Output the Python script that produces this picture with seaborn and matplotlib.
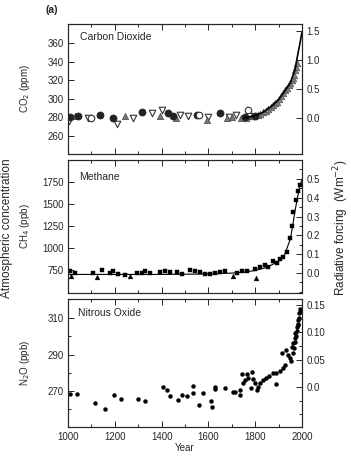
import matplotlib
matplotlib.use("Agg")
import numpy as np
import pandas as pd
import seaborn as sns
import matplotlib.pyplot as plt
from matplotlib.ticker import MultipleLocator, FixedLocator

# ---- data ----
# CO2 (ppm): ice core points by marker type
co2_dtri_year = [1005, 1085, 1209, 1278, 1359, 1400, 1480, 1512, 1600, 1690, 1720, 1775]
co2_dtri_val = [276, 279, 273, 279, 285, 288, 283, 282, 280, 280, 283, 282]
co2_dot_year = [1010, 1043, 1137, 1192, 1316, 1427, 1450, 1550, 1650, 1757, 1800]
co2_dot_val = [280, 281, 283, 279, 286, 285, 281, 283, 285, 280, 282]
co2_tri_year = [1030, 1244, 1393, 1460, 1594, 1680, 1700, 1740]
co2_tri_val = [281, 281, 281, 279, 277, 279, 280, 279]
co2_circ_year = [1100, 1560, 1770]
co2_circ_val = [279, 283, 288]
co2_grey_year = [1760, 1780, 1795, 1810, 1820, 1832, 1845, 1855, 1866, 1876, 1885,
                 1895, 1903, 1912, 1920, 1928, 1936, 1943, 1950, 1956, 1961, 1966,
                 1970, 1974, 1978]
co2_grey_val = [279, 281, 282, 283, 284, 286, 287, 289, 291, 293, 295,
                297, 300, 303, 306, 309, 312, 315, 317, 320, 322, 326,
                331, 334, 338]
co2_line_year = [1750, 1800, 1830, 1870, 1900, 1920, 1950, 1970, 1980, 1990, 2000]
co2_line_val = [279, 282, 285, 292, 299, 306, 317, 331, 345, 358, 372]

# CH4 (ppb)
ch4_sq_year = [1008, 1030, 1107, 1145, 1180, 1192, 1214, 1244, 1295, 1316, 1330,
               1350, 1393, 1415, 1436, 1466, 1487, 1521, 1543, 1564, 1585, 1607,
               1628, 1650, 1671, 1722, 1744, 1765, 1800, 1820, 1842, 1855, 1876,
               1893, 1906, 1919, 1936, 1949, 1957, 1962, 1975, 1983, 1991]
ch4_sq_val = [740, 715, 720, 745, 720, 735, 710, 690, 720, 715, 740,
              720, 725, 735, 725, 730, 710, 745, 740, 730, 710, 705,
              720, 725, 735, 720, 740, 740, 760, 780, 810, 790, 850,
              830, 870, 900, 950, 1114, 1250, 1409, 1545, 1650, 1720]
ch4_tri_year = [1013, 1124, 1265, 1705, 1805]
ch4_tri_val = [680, 670, 680, 680, 665]
ch4_line_year = [1000, 1200, 1400, 1600, 1700, 1750, 1800, 1850, 1900, 1925,
                 1950, 1960, 1970, 1980, 1990, 2000]
ch4_line_val = [700, 700, 700, 705, 715, 725, 745, 780, 850, 920,
                1100, 1250, 1420, 1560, 1700, 1780]

# N2O (ppb)
n2o_year = [1008, 1037, 1115, 1158, 1197, 1226, 1299, 1329, 1406, 1423, 1436, 1470,
            1487, 1509, 1534, 1536, 1561, 1578, 1610, 1614, 1627, 1630, 1671, 1705,
            1715, 1735, 1735, 1743, 1748, 1757, 1764, 1771, 1782, 1786, 1791, 1799,
            1807, 1810, 1820, 1835, 1848, 1861, 1877, 1888, 1891, 1904, 1913, 1919,
            1927, 1931, 1940, 1948, 1952, 1956, 1960, 1962, 1965, 1968, 1970, 1972,
            1975, 1977, 1979, 1981, 1983, 1985, 1987, 1989, 1991, 1993]
n2o_val = [268.4, 268.4, 263.4, 260.0, 268.0, 265.6, 265.8, 264.7, 272.0, 270.5, 267.0, 265.0,
           268.0, 267.0, 272.7, 269.0, 262.3, 269.0, 264.5, 261.3, 271.0, 272.2, 271.6, 269.5,
           269.5, 270.5, 267.8, 279.3, 274.4, 276.0, 279.3, 277.0, 271.6, 280.4, 276.6, 274.4,
           270.5, 272.0, 274.4, 276.0, 277.0, 278.2, 280.0, 273.8, 280.0, 281.0, 291.0, 282.6,
           284.3, 292.5, 289.8, 288.0, 286.5, 294.2, 291.0, 296.4, 293.5, 299.0, 297.0, 301.8,
           300.0, 305.0, 303.0, 307.0, 309.0, 306.0, 312.8, 310.0, 313.4, 315.0]

sns.set_style("ticks")
plt.rcParams["font.family"] = ["Liberation Sans", "DejaVu Sans"]
plt.rcParams["font.size"] = 7
plt.rcParams["axes.linewidth"] = 0.8

fig = plt.figure(figsize=(3.51, 4.61), dpi=100)
W, H = 351, 461


def add_ax(top, bottom):
    return fig.add_axes([68 / W, 1 - bottom / H, 234 / W, (bottom - top) / H])


ax1 = add_ax(24, 154)
ax2 = add_ax(160, 293)
ax3 = add_ax(299, 427)

# CO2 panel
sns.lineplot(x=co2_line_year, y=co2_line_val, ax=ax1, color="black", lw=1.2)
sns.scatterplot(x=co2_grey_year, y=co2_grey_val, ax=ax1, color="#808080", s=22,
                marker="^", edgecolor="#555555", linewidth=0.5)
sns.scatterplot(x=co2_dtri_year, y=co2_dtri_val, ax=ax1, marker="v", s=22,
                facecolor="white", edgecolor="#333333", linewidth=0.8)
sns.scatterplot(x=co2_tri_year, y=co2_tri_val, ax=ax1, marker="^", s=20,
                color="#777777", edgecolor="#444444", linewidth=0.5)
sns.scatterplot(x=co2_dot_year, y=co2_dot_val, ax=ax1, marker="o", s=26,
                color="#222222", edgecolor="#222222", linewidth=0.5)
sns.scatterplot(x=co2_circ_year, y=co2_circ_val, ax=ax1, marker="o", s=22,
                facecolor="white", edgecolor="#333333", linewidth=0.8)
ax1.set_ylim(240.6, 380.4)
ax1.set_yticks([260, 280, 300, 320, 340, 360])
ax1.set_ylabel("CO$_2$ (ppm)")
ax1.text(80 / W, 1 - 37 / H, "Carbon Dioxide", transform=fig.transFigure,
         fontsize=7.5, va="center")

# CH4 panel
sns.lineplot(x=ch4_line_year, y=ch4_line_val, ax=ax2, color="black", lw=0.8)
sns.scatterplot(x=ch4_sq_year, y=ch4_sq_val, ax=ax2, marker="s", s=11,
                color="black", edgecolor="black", linewidth=0.3)
sns.scatterplot(x=ch4_tri_year, y=ch4_tri_val, ax=ax2, marker="^", s=12,
                color="black", edgecolor="black", linewidth=0.3)
ax2.set_ylim(489, 2000)
ax2.set_yticks([750, 1000, 1250, 1500, 1750])
ax2.set_ylabel("CH$_4$ (ppb)")
ax2.text(79 / W, 1 - 177 / H, "Methane", transform=fig.transFigure,
         fontsize=7.5, va="center")

# N2O panel
sns.scatterplot(x=n2o_year, y=n2o_val, ax=ax3, marker="o", s=8,
                color="black", edgecolor="black", linewidth=0.3)
ax3.set_ylim(250.2, 320.5)
ax3.yaxis.set_major_locator(FixedLocator([250, 270, 290, 310]))
ax3.yaxis.set_minor_locator(FixedLocator([260, 280, 300]))
ax3.set_ylabel("N$_2$O (ppb)")
ax3.set_xlabel("Year", labelpad=1)
ax3.text(78 / W, 1 - 313 / H, "Nitrous Oxide", transform=fig.transFigure,
         fontsize=7.5, va="center")

# right axes with radiative forcing
right_specs = [
    (ax1, (-0.63, 1.62), [0.0, 0.5, 1.0, 1.5], None, ["0.0", "0.5", "1.0", "1.5"]),
    (ax2, (-0.106, 0.60), [0.0, 0.1, 0.2, 0.3, 0.4, 0.5], 0.05,
     ["0.0", "0.1", "0.2", "0.3", "0.4", "0.5"]),
    (ax3, (-0.073, 0.161), [0.0, 0.05, 0.10, 0.15], 0.025,
     ["0.0", "0.05", "0.10", "0.15"]),
]
for ax, lim, ticks, minor, labels in right_specs:
    tw = ax.twinx()
    tw.set_ylim(*lim)
    tw.set_yticks(ticks)
    tw.set_yticklabels(labels)
    if minor:
        tw.yaxis.set_minor_locator(MultipleLocator(minor))
    tw.tick_params(axis="y", which="both", direction="in", length=4, width=0.7,
                   pad=3, labelsize=7)
    tw.tick_params(axis="y", which="minor", length=2.5)

for ax in (ax1, ax2, ax3):
    ax.set_xlim(1000, 2000)
    ax.xaxis.set_major_locator(MultipleLocator(200))
    ax.xaxis.set_minor_locator(MultipleLocator(100))
    ax.tick_params(which="both", direction="in", top=True, width=0.7, labelsize=7)
    ax.tick_params(which="major", length=4)
    ax.tick_params(which="minor", length=2.5)
    ax.tick_params(axis="y", pad=3)
    ax.yaxis.set_label_coords(-0.155, 0.5)
    ax.yaxis.label.set_size(7)
    for sp in ax.spines.values():
        sp.set_visible(True)
        sp.set_linewidth(0.8)
ax1.tick_params(labelbottom=False)
ax2.tick_params(labelbottom=False)

fig.text(52 / W, 1 - 10 / H, "(a)", fontsize=7.5, fontweight="bold",
         ha="center", va="center")
fig.text(7 / W, 1 - 228 / H, "Atmospheric concentration", rotation=90,
         fontsize=8.5, ha="center", va="center")
fig.text(341 / W, 1 - 228 / H, "Radiative forcing  (Wm$^{-2}$)", rotation=90,
         fontsize=8.5, ha="center", va="center")

fig.savefig("out.png", dpi=100)
